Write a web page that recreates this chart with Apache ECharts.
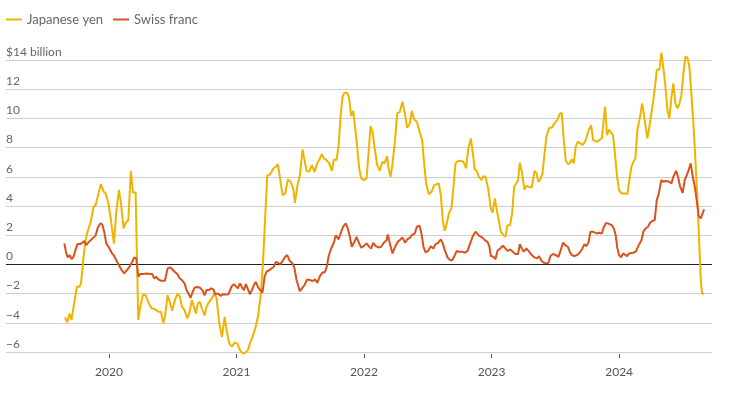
<!DOCTYPE html>
<html>
<head>
<meta charset="utf-8">
<script src="https://cdn.jsdelivr.net/npm/echarts@6/dist/echarts.min.js"></script>
<style>
  html, body { margin: 0; padding: 0; background: #fff; }
  #main { width: 730px; height: 402px; }
</style>
</head>
<body>
<div id="main"></div>
<script>
// weekly net positions, $ billion; x = decimal year
var yenYears = [
  2019.655, 2019.673, 2019.692, 2019.707, 2019.723, 2019.749, 2019.770, 2019.781, 2019.801, 2019.817,
  2019.828, 2019.843, 2019.859, 2019.880, 2019.896, 2019.911, 2019.937, 2019.958, 2019.974, 2019.995,
  2020.016, 2020.039, 2020.057, 2020.078, 2020.094, 2020.115, 2020.131, 2020.152, 2020.172, 2020.188,
  2020.209, 2020.230, 2020.246, 2020.266, 2020.287, 2020.313, 2020.334, 2020.361, 2020.387, 2020.408,
  2020.426, 2020.439, 2020.460, 2020.481, 2020.496, 2020.517, 2020.538, 2020.556, 2020.572, 2020.593,
  2020.614, 2020.630, 2020.650, 2020.666, 2020.682, 2020.697, 2020.713, 2020.729, 2020.750, 2020.765,
  2020.786, 2020.807, 2020.828, 2020.844, 2020.865, 2020.886, 2020.907, 2020.922, 2020.943, 2020.964,
  2020.985, 2021.006, 2021.027, 2021.048, 2021.068, 2021.089, 2021.105, 2021.126, 2021.147, 2021.168,
  2021.189, 2021.209, 2021.225, 2021.241, 2021.257, 2021.272, 2021.288, 2021.309, 2021.324, 2021.340,
  2021.361, 2021.382, 2021.403, 2021.424, 2021.445, 2021.458, 2021.476, 2021.497, 2021.518, 2021.533,
  2021.549, 2021.570, 2021.591, 2021.612, 2021.633, 2021.654, 2021.669, 2021.685, 2021.706, 2021.727,
  2021.748, 2021.763, 2021.784, 2021.800, 2021.816, 2021.831, 2021.847, 2021.868, 2021.883, 2021.899,
  2021.915, 2021.931, 2021.946, 2021.962, 2021.978, 2021.999, 2022.020, 2022.035, 2022.051, 2022.066,
  2022.082, 2022.103, 2022.124, 2022.144, 2022.160, 2022.181, 2022.191, 2022.207, 2022.222, 2022.243,
  2022.260, 2022.281, 2022.301, 2022.322, 2022.338, 2022.359, 2022.375, 2022.393, 2022.414, 2022.435,
  2022.456, 2022.471, 2022.487, 2022.508, 2022.529, 2022.550, 2022.565, 2022.586, 2022.602, 2022.617,
  2022.633, 2022.649, 2022.665, 2022.685, 2022.701, 2022.717, 2022.738, 2022.758, 2022.779, 2022.800,
  2022.816, 2022.837, 2022.853, 2022.868, 2022.884, 2022.900, 2022.921, 2022.936, 2022.952, 2022.973,
  2022.994, 2023.009, 2023.025, 2023.041, 2023.056, 2023.072, 2023.093, 2023.109, 2023.124, 2023.145,
  2023.161, 2023.177, 2023.192, 2023.208, 2023.221, 2023.237, 2023.258, 2023.273, 2023.294, 2023.315,
  2023.336, 2023.352, 2023.367, 2023.383, 2023.399, 2023.414, 2023.430, 2023.451, 2023.472, 2023.493,
  2023.514, 2023.534, 2023.550, 2023.566, 2023.581, 2023.597, 2023.613, 2023.628, 2023.644, 2023.660,
  2023.675, 2023.691, 2023.712, 2023.733, 2023.749, 2023.764, 2023.780, 2023.796, 2023.811, 2023.827,
  2023.843, 2023.864, 2023.874, 2023.890, 2023.905, 2023.921, 2023.937, 2023.952, 2023.968, 2023.984,
  2023.999, 2024.018, 2024.033, 2024.049, 2024.065, 2024.080, 2024.096, 2024.112, 2024.127, 2024.143,
  2024.164, 2024.180, 2024.195, 2024.211, 2024.221, 2024.237, 2024.253, 2024.268, 2024.284, 2024.295,
  2024.316, 2024.331, 2024.347, 2024.363, 2024.378, 2024.394, 2024.410, 2024.425, 2024.441, 2024.457,
  2024.472, 2024.488, 2024.504, 2024.519, 2024.535, 2024.551, 2024.566, 2024.582, 2024.598, 2024.613,
  2024.629, 2024.640, 2024.650, 2024.666
];
var yenValues = [
  -3.63, -3.97, -3.36, -3.8, -2.9, -1.53, -1.53, -1.3, 0.5, 1.67,
  2.1, 2.2, 3.0, 3.95, 4.06, 4.6, 5.5, 5.0, 4.86, 4.2,
  3.04, 1.44, 3.5, 5.1, 4.2, 2.47, 2.85, 3.04, 6.4, 4.93,
  4.93, -3.8, -2.9, -2.1, -2.1, -2.67, -3.0, -3.08, -3.24, -3.24,
  -4.0, -3.58, -2.1, -2.67, -3.17, -2.44, -2.0, -2.2, -2.9, -3.13,
  -3.7, -3.36, -2.45, -2.9, -3.36, -2.67, -2.56, -3.02, -3.5, -2.9,
  -2.56, -2.33, -1.99, -2.33, -4.04, -4.96, -3.59, -4.5, -5.41, -5.64,
  -5.37, -5.41, -5.87, -6.1, -6.05, -5.87, -5.41, -4.96, -4.4, -3.59,
  -2.22, 0.3, 3.26, 6.1, 6.1, 6.28, 6.57, 6.69, 6.87, 6.0,
  4.75, 4.86, 5.82, 5.66, 5.2, 4.22, 5.32, 6.12, 7.87, 7.78,
  6.41, 6.34, 6.8, 6.34, 6.92, 7.26, 7.55, 7.26, 7.14, 6.92,
  6.41, 7.19, 7.14, 8.06, 10.1, 11.48, 11.76, 11.76, 11.37, 10.16,
  10.52, 9.31, 8.06, 6.57, 5.89, 5.77, 5.89, 7.6, 9.47, 9.09,
  8.06, 6.8, 6.41, 7.03, 6.92, 7.42, 6.64, 6.0, 6.8, 8.51,
  10.34, 10.45, 11.14, 10.23, 9.36, 9.66, 10.52, 9.93, 9.77, 9.09,
  8.51, 6.92, 5.55, 4.81, 4.97, 5.43, 5.32, 5.55, 4.75, 3.03,
  2.3, 2.81, 3.49, 3.83, 5.32, 6.92, 7.08, 7.1, 7.03, 6.57,
  7.83, 8.63, 7.6, 6.5, 6.41, 6.0, 5.77, 6.05, 6.0, 5.2,
  3.83, 3.54, 4.52, 3.72, 3.03, 2.24, 2.0, 1.89, 2.69, 2.69,
  3.49, 5.32, 5.27, 5.77, 6.96, 6.34, 5.13, 5.38, 5.32, 5.27,
  6.41, 6.23, 5.66, 5.82, 6.23, 7.49, 8.74, 9.36, 9.36, 9.66,
  9.88, 10.29, 10.39, 8.51, 7.14, 6.87, 6.92, 7.21, 6.92, 8.06,
  8.4, 8.33, 8.17, 8.4, 8.86, 9.24, 9.54, 8.51, 8.58, 8.4,
  8.51, 8.63, 8.67, 10.8, 8.86, 9.24, 9.02, 8.86, 7.49, 6.0,
  5.09, 4.86, 4.97, 4.86, 4.81, 5.77, 6.69, 7.03, 7.26, 9.2,
  10.11, 11.02, 10.22, 9.2, 8.63, 9.43, 10.34, 11.25, 12.39, 13.31,
  13.35, 14.5, 13.42, 12.17, 10.57, 10.0, 11.48, 12.39, 11.02, 10.68,
  10.98, 11.59, 13.08, 14.22, 14.18, 13.54, 11.71, 9.66, 7.14, 4.63,
  1.21, -1.07, -1.99, -2.03
];

var francYears = [
  2019.650, 2019.663, 2019.676, 2019.692, 2019.707, 2019.723, 2019.739, 2019.754, 2019.775, 2019.791,
  2019.807, 2019.822, 2019.838, 2019.859, 2019.880, 2019.896, 2019.911, 2019.932, 2019.948, 2019.963,
  2019.979, 2020.000, 2020.021, 2020.037, 2020.057, 2020.078, 2020.099, 2020.120, 2020.141, 2020.162,
  2020.183, 2020.198, 2020.214, 2020.230, 2020.246, 2020.266, 2020.298, 2020.319, 2020.340, 2020.355,
  2020.371, 2020.387, 2020.408, 2020.439, 2020.460, 2020.481, 2020.496, 2020.515, 2020.536, 2020.556,
  2020.572, 2020.593, 2020.608, 2020.624, 2020.640, 2020.656, 2020.671, 2020.692, 2020.713, 2020.734,
  2020.750, 2020.765, 2020.786, 2020.802, 2020.818, 2020.833, 2020.854, 2020.875, 2020.896, 2020.917,
  2020.938, 2020.959, 2020.980, 2020.995, 2021.011, 2021.027, 2021.043, 2021.058, 2021.074, 2021.089,
  2021.105, 2021.121, 2021.136, 2021.152, 2021.168, 2021.183, 2021.204, 2021.220, 2021.236, 2021.257,
  2021.272, 2021.293, 2021.309, 2021.324, 2021.345, 2021.366, 2021.382, 2021.398, 2021.418, 2021.439,
  2021.455, 2021.471, 2021.486, 2021.497, 2021.513, 2021.533, 2021.554, 2021.575, 2021.596, 2021.617,
  2021.633, 2021.654, 2021.674, 2021.695, 2021.711, 2021.721, 2021.742, 2021.763, 2021.779, 2021.800,
  2021.816, 2021.836, 2021.857, 2021.873, 2021.889, 2021.904, 2021.925, 2021.941, 2021.962, 2021.978,
  2021.998, 2022.019, 2022.040, 2022.056, 2022.072, 2022.092, 2022.113, 2022.134, 2022.155, 2022.176,
  2022.186, 2022.202, 2022.223, 2022.244, 2022.265, 2022.286, 2022.301, 2022.322, 2022.338, 2022.359,
  2022.375, 2022.398, 2022.414, 2022.435, 2022.450, 2022.466, 2022.482, 2022.503, 2022.524, 2022.544,
  2022.560, 2022.581, 2022.602, 2022.617, 2022.633, 2022.654, 2022.675, 2022.691, 2022.706, 2022.727,
  2022.743, 2022.758, 2022.774, 2022.790, 2022.811, 2022.832, 2022.853, 2022.874, 2022.889, 2022.905,
  2022.926, 2022.947, 2022.968, 2022.983, 2022.994, 2023.015, 2023.030, 2023.046, 2023.067, 2023.088,
  2023.109, 2023.124, 2023.145, 2023.166, 2023.187, 2023.208, 2023.221, 2023.237, 2023.252, 2023.273,
  2023.294, 2023.315, 2023.336, 2023.357, 2023.372, 2023.388, 2023.409, 2023.430, 2023.446, 2023.461,
  2023.482, 2023.503, 2023.524, 2023.540, 2023.561, 2023.576, 2023.597, 2023.613, 2023.628, 2023.649,
  2023.670, 2023.691, 2023.712, 2023.728, 2023.743, 2023.759, 2023.775, 2023.796, 2023.811, 2023.827,
  2023.843, 2023.864, 2023.879, 2023.895, 2023.911, 2023.926, 2023.942, 2023.958, 2023.973, 2023.984,
  2023.999, 2024.015, 2024.031, 2024.046, 2024.062, 2024.078, 2024.093, 2024.109, 2024.130, 2024.154,
  2024.175, 2024.190, 2024.206, 2024.227, 2024.242, 2024.263, 2024.279, 2024.295, 2024.310, 2024.331,
  2024.347, 2024.363, 2024.378, 2024.394, 2024.410, 2024.425, 2024.446, 2024.462, 2024.478, 2024.498,
  2024.514, 2024.530, 2024.545, 2024.561, 2024.577, 2024.593, 2024.608, 2024.624, 2024.640, 2024.650,
  2024.666
];
var francValues = [
  1.44, 0.87, 0.48, 0.64, 0.37, 0.53, 1.03, 1.39, 1.39, 1.48,
  1.6, 1.32, 1.5, 1.67, 1.85, 1.99, 2.47, 2.81, 2.74, 2.24,
  1.44, 1.16, 0.8, 0.64, 0.3, -0.05, -0.39, -0.62, -0.39, -0.16,
  0.18, 0.48, 0.41, -0.84, -0.66, -0.66, -0.62, -0.66, -0.66, -0.96,
  -0.84, -1.03, -1.12, -1.12, -0.27, -0.2, -0.25, -0.5, -0.66, -0.96,
  -1.07, -1.3, -1.76, -1.99, -2.29, -1.89, -1.6, -1.55, -1.6, -1.78,
  -2.13, -1.76, -1.76, -1.64, -1.7, -2.04, -1.99, -2.15, -2.04, -2.06,
  -2.04, -1.55, -1.35, -1.35, -1.64, -1.3, -1.57, -1.76, -1.35, -1.42,
  -2.04, -1.76, -1.42, -1.19, -1.55, -1.72, -1.94, -0.85, -0.5, -0.39,
  -0.44, -0.16, 0.18, 0.07, 0.02, 0.3, 0.52, 0.64, 0.23, 0.07,
  -0.28, -1.07, -1.53, -1.83, -1.64, -1.42, -1.03, -1.07, -1.14, -1.03,
  -1.26, -0.8, -0.57, -0.5, -0.05, 0.52, 1.09, 1.48, 2.0, 1.71,
  2.12, 2.58, 2.81, 2.46, 1.89, 1.21, 1.55, 1.89, 1.44, 1.14,
  1.25, 1.44, 1.21, 1.09, 1.48, 1.25, 1.16, 1.21, 1.48, 1.66,
  2.05, 1.44, 0.75, 1.21, 1.55, 1.71, 1.85, 1.48, 1.71, 1.82,
  2.0, 2.12, 2.58, 2.65, 2.12, 1.21, 0.82, 0.93, 1.25, 1.09,
  1.39, 1.48, 1.71, 1.44, 0.98, 0.48, 0.29, 0.29, 0.52, 0.93,
  0.86, 0.75, 0.86, 0.8, 0.93, 1.44, 1.94, 2.24, 2.24, 1.94,
  1.85, 1.66, 1.55, 1.21, 0.57, 0.52, 0.36, 0.93, 1.09, 1.28,
  1.09, 0.93, 1.02, 0.86, 0.71, 0.71, 1.39, 1.09, 0.87, 1.09,
  0.87, 0.64, 0.48, 0.41, 0.57, 0.29, 0.11, 0.07, 0.11, 0.57,
  0.71, 0.64, 0.52, 0.93, 1.5, 1.32, 1.21, 0.87, 0.64, 0.57,
  0.64, 0.8, 1.09, 1.39, 1.25, 1.48, 2.23, 2.23, 2.35, 2.12,
  2.17, 2.12, 2.53, 2.81, 2.81, 2.92, 2.69, 2.46, 2.01, 1.21,
  0.64, 0.48, 0.75, 0.64, 0.57, 0.75, 0.64, 0.8, 0.87, 1.32,
  1.66, 2.23, 2.46, 2.58, 2.85, 2.99, 3.03, 4.4, 4.81, 5.77,
  5.66, 5.71, 5.71, 5.66, 5.55, 6.0, 6.41, 6.0, 5.32, 4.9,
  5.77, 6.12, 6.46, 6.92, 6.0, 5.32, 4.4, 3.31, 3.15, 3.26,
  3.77
];

var yearTicks = [2020, 2021, 2022, 2023, 2024];
var seriesNames = ['Japanese yen', 'Swiss franc'];

function pairs(xs, ys) {
  var out = [];
  for (var i = 0; i < xs.length; i++) out.push([xs[i], ys[i]]);
  return out;
}

var font = 'Lato, "Noto Sans", sans-serif';
var chart = echarts.init(document.getElementById('main'));

var option = {
  animation: false,
  backgroundColor: '#fff',
  textStyle: { fontFamily: font },
  legend: {
    data: seriesNames,
    left: 6,
    top: 13,
    padding: 0,
    icon: 'rect',
    itemWidth: 16,
    itemHeight: 2,
    itemGap: 10,
    textStyle: { color: '#666', fontSize: 13, fontFamily: font }
  },
  grid: { left: 6, right: 18, top: 60, bottom: 50, containLabel: false },
  xAxis: {
    type: 'value',
    min: 2019.193,
    max: 2024.728,
    offset: 2,
    splitLine: { show: false },
    axisLine: { show: false, onZero: false },
    axisTick: { show: true, customValues: yearTicks, length: 4, lineStyle: { color: '#555' } },
    axisLabel: {
      customValues: yearTicks,
      formatter: function (v) { return String(v); },
      color: '#555', fontSize: 12, margin: 12, fontFamily: font
    }
  },
  yAxis: {
    type: 'value',
    min: -6,
    max: 14,
    interval: 2,
    axisLine: { show: false },
    axisTick: { show: false },
    splitLine: { lineStyle: { color: '#cfcfcf', width: 1 } },
    axisLabel: {
      inside: true,
      margin: 0,
      verticalAlign: 'bottom',
      padding: [0, 0, 2, 0],
      color: '#666',
      fontSize: 12,
      fontFamily: font,
      formatter: function (v) {
        if (v === 14) return '$14 billion';
        return String(v).replace('-', '\u2212');
      }
    }
  },
  series: [
    {
      name: seriesNames[0],
      type: 'line',
      data: pairs(yenYears, yenValues),
      showSymbol: false,
      clip: false,
      color: '#f0b400',
      lineStyle: { width: 2, color: '#f0b400' },
      z: 3
    },
    {
      name: seriesNames[1],
      type: 'line',
      data: pairs(francYears, francValues),
      showSymbol: false,
      clip: false,
      color: '#d9531c',
      lineStyle: { width: 2, color: '#d9531c' },
      z: 4,
      markLine: {
        silent: true,
        symbol: 'none',
        label: { show: false },
        lineStyle: { color: '#222', width: 1, type: 'solid' },
        data: [{ yAxis: 0 }],
        z: 2
      }
    }
  ]
};

chart.setOption(option);
</script>
</body>
</html>
